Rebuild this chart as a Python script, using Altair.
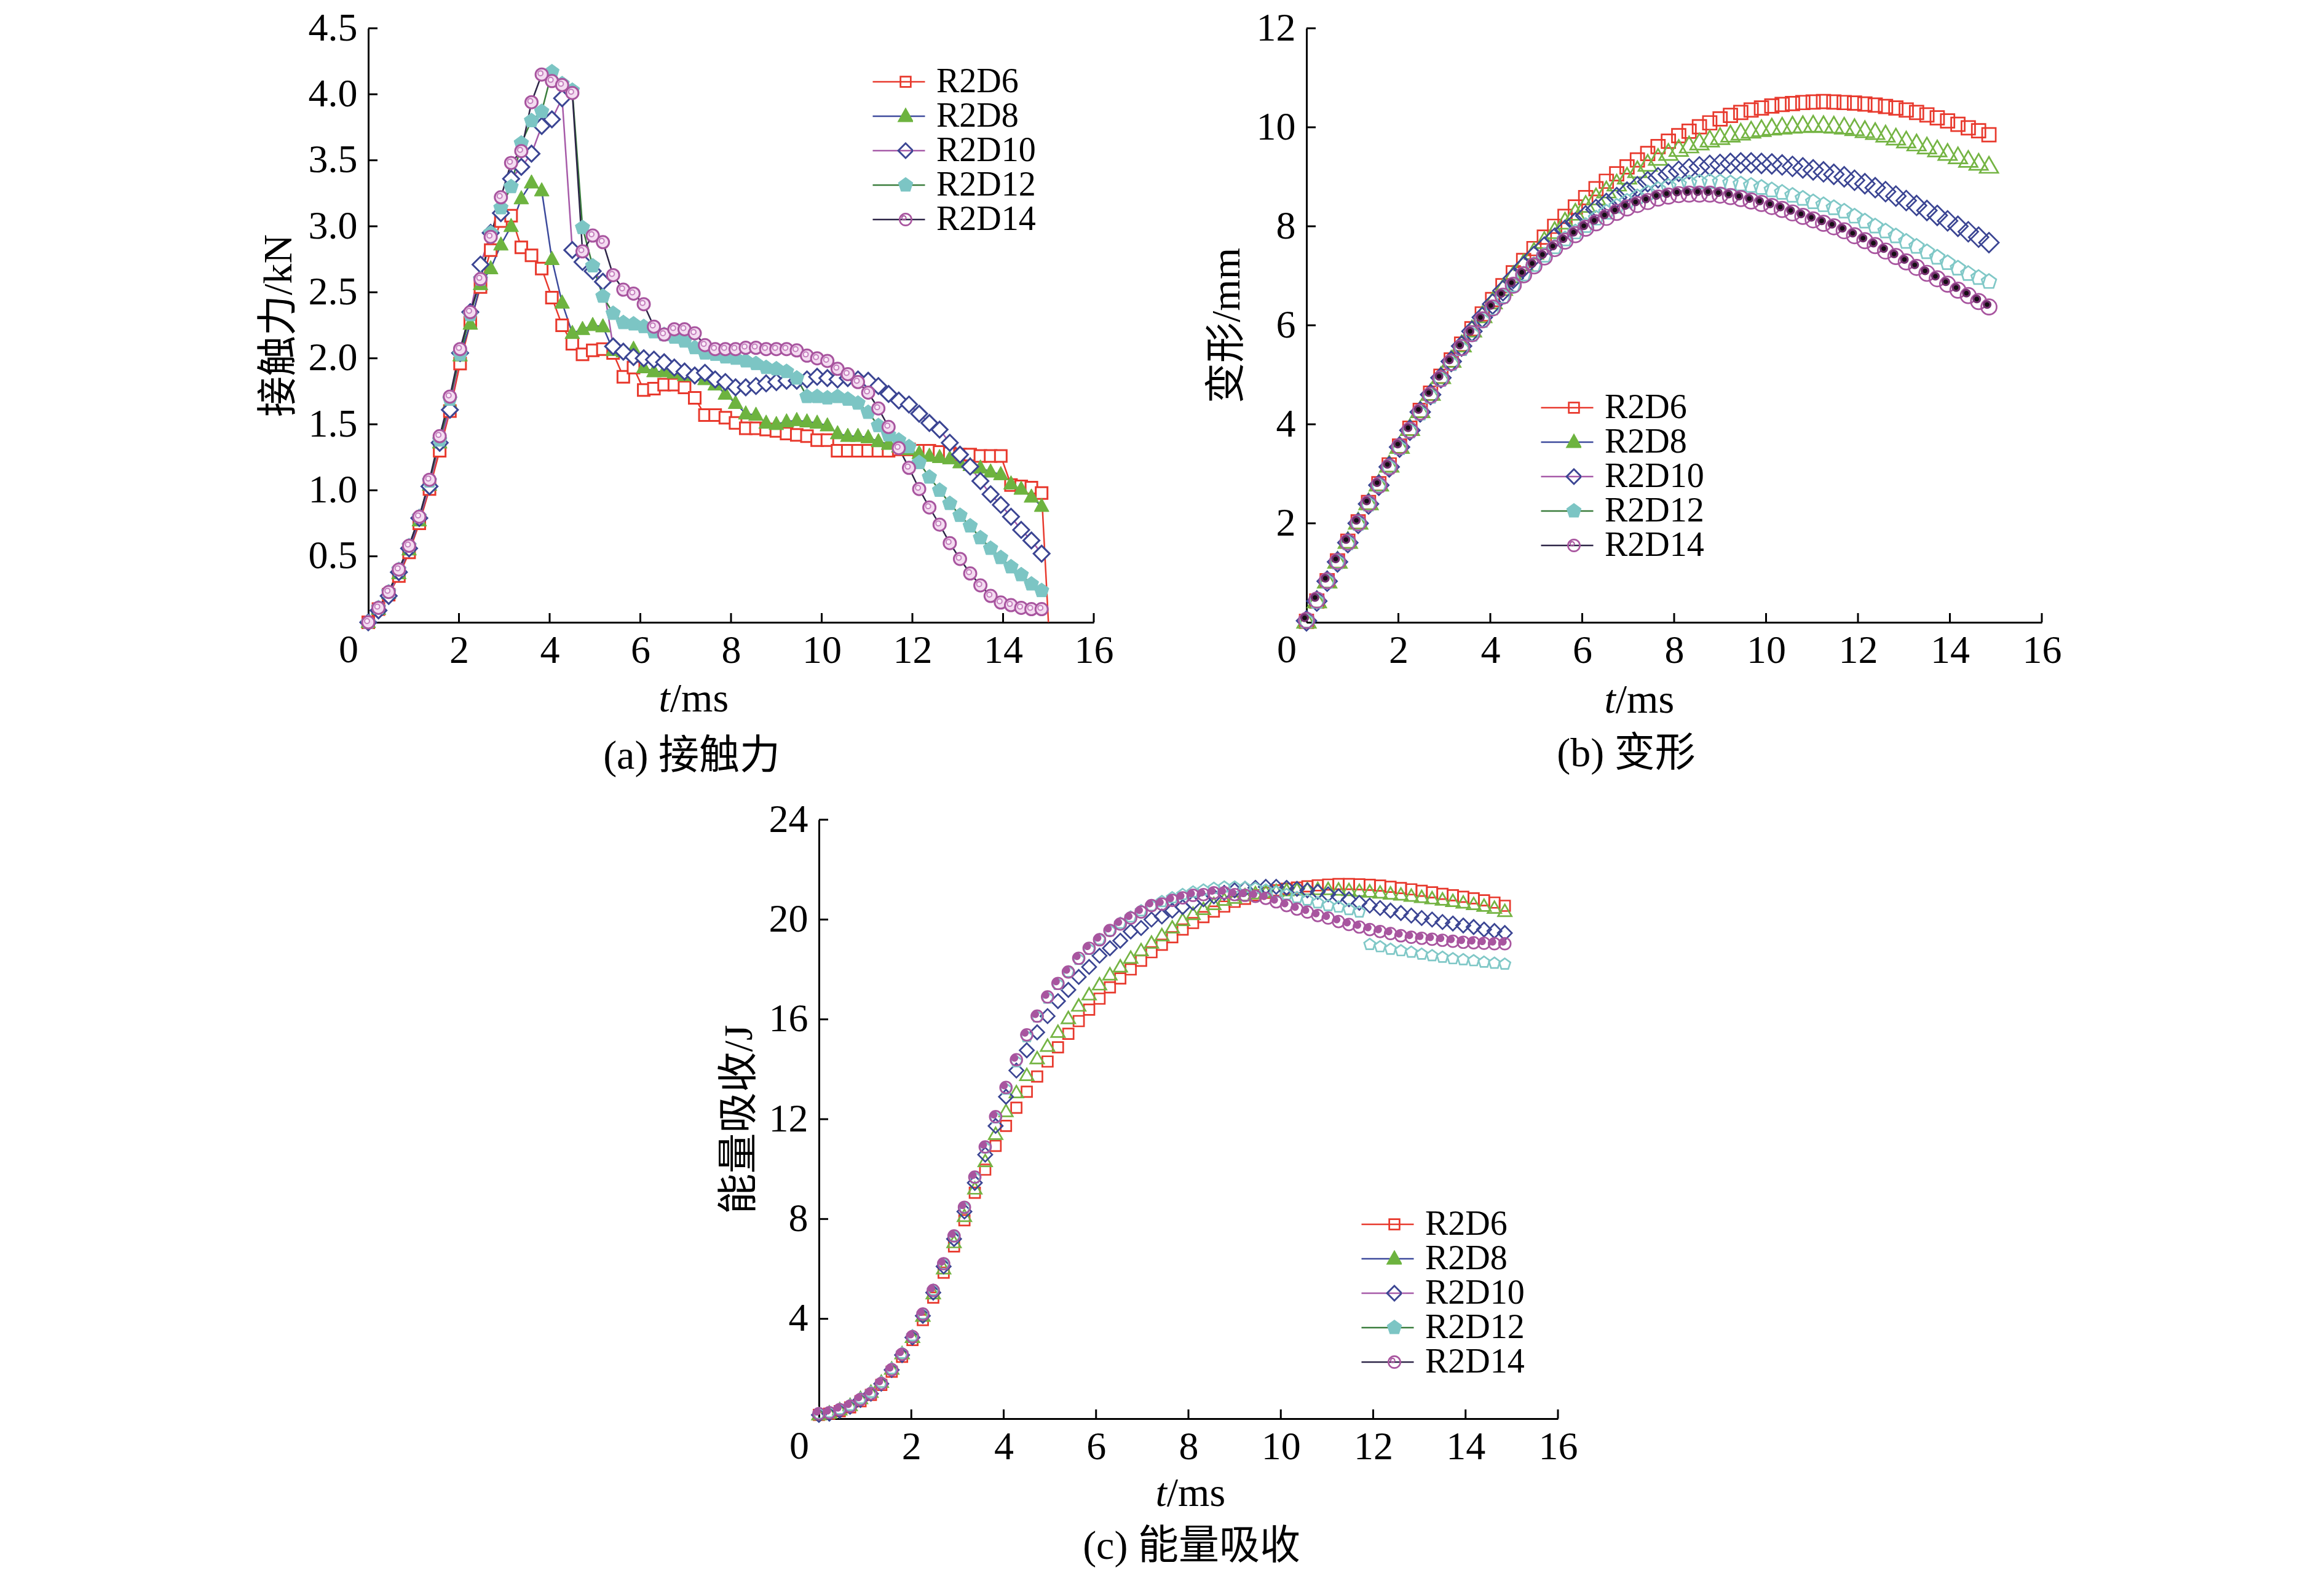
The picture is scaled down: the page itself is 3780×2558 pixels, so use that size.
import math
import altair as alt
import pandas as pd

# ---------------- data ----------------
SERIES = ["R2D6", "R2D8", "R2D10", "R2D12", "R2D14"]
LEGEND_KEYS = ["k6", "k8", "k10", "k12", "k14"]

T_MS = [0.0, 0.225, 0.45, 0.675, 0.9, 1.125, 1.35, 1.575, 1.8, 2.025,
        2.25, 2.475, 2.7, 2.925, 3.15, 3.375, 3.6, 3.825, 4.05, 4.275,
        4.5, 4.725, 4.95, 5.175, 5.4, 5.625, 5.85, 6.075, 6.3, 6.525,
        6.75, 6.975, 7.2, 7.425, 7.65, 7.875, 8.1, 8.325, 8.55, 8.775,
        9.0, 9.225, 9.45, 9.675, 9.9, 10.125, 10.35, 10.575, 10.8, 11.025,
        11.25, 11.475, 11.7, 11.925, 12.15, 12.375, 12.6, 12.825, 13.05, 13.275,
        13.5, 13.725, 13.95, 14.175, 14.4, 14.625, 14.85]

X_LABEL_TICKS = [2, 4, 6, 8, 10, 12, 14, 16]
X_ZERO_LABEL = "0"

# (a) contact force, kN
FORCE_R2D6 = [0.00, 0.10, 0.21, 0.35, 0.53, 0.75, 1.01, 1.30, 1.60, 1.96,
              2.27, 2.54, 2.82, 3.04, 3.08, 2.84, 2.78, 2.68, 2.46, 2.25,
              2.11, 2.03, 2.06, 2.07, 2.04, 1.86, 1.93, 1.76, 1.77, 1.80,
              1.80, 1.78, 1.70, 1.57, 1.57, 1.55, 1.51, 1.47, 1.47, 1.46,
              1.45, 1.43, 1.42, 1.41, 1.38, 1.38, 1.30, 1.30, 1.30, 1.30,
              1.30, 1.30, 1.31, 1.31, 1.30, 1.30, 1.29, 1.28, 1.27, 1.27,
              1.26, 1.26, 1.26, 1.04, 1.03, 1.02, 0.98]
FORCE_R2D8 = [0.00, 0.10, 0.22, 0.37, 0.55, 0.77, 1.04, 1.36, 1.66, 2.02,
              2.26, 2.56, 2.68, 2.86, 3.00, 3.21, 3.33, 3.27, 2.75, 2.42,
              2.19, 2.22, 2.25, 2.24, 2.06, 2.05, 2.07, 1.93, 1.90, 1.90,
              1.89, 1.87, 1.87, 1.84, 1.80, 1.73, 1.66, 1.58, 1.57, 1.51,
              1.50, 1.52, 1.53, 1.52, 1.51, 1.49, 1.43, 1.41, 1.41, 1.40,
              1.37, 1.35, 1.33, 1.31, 1.28, 1.26, 1.25, 1.24, 1.21, 1.19,
              1.17, 1.14, 1.12, 1.05, 1.01, 0.95, 0.88]
FORCE_R2D10 = [0.00, 0.09, 0.20, 0.38, 0.56, 0.79, 1.03, 1.36, 1.61, 2.04,
               2.35, 2.71, 2.95, 3.10, 3.36, 3.45, 3.55, 3.76, 3.81, 3.97,
               2.82, 2.73, 2.66, 2.58, 2.09, 2.05, 2.01, 2.00, 1.99, 1.97,
               1.93, 1.90, 1.87, 1.89, 1.84, 1.82, 1.78, 1.78, 1.79, 1.81,
               1.82, 1.83, 1.83, 1.84, 1.86, 1.85, 1.84, 1.85, 1.84, 1.83,
               1.79, 1.73, 1.68, 1.65, 1.58, 1.51, 1.46, 1.36, 1.27, 1.18,
               1.07, 0.97, 0.89, 0.80, 0.70, 0.62, 0.52]
FORCE_R2D12 = [0.00, 0.11, 0.23, 0.40, 0.58, 0.80, 1.07, 1.38, 1.69, 2.03,
               2.33, 2.60, 2.95, 3.14, 3.30, 3.63, 3.80, 3.87, 4.17, 4.08,
               4.03, 2.99, 2.70, 2.47, 2.34, 2.27, 2.26, 2.24, 2.20, 2.18,
               2.16, 2.13, 2.08, 2.04, 2.03, 2.01, 2.00, 1.98, 1.96, 1.93,
               1.92, 1.90, 1.85, 1.71, 1.71, 1.70, 1.71, 1.69, 1.66, 1.59,
               1.49, 1.42, 1.38, 1.33, 1.21, 1.10, 1.00, 0.90, 0.81, 0.73,
               0.64, 0.56, 0.49, 0.42, 0.36, 0.29, 0.24]
FORCE_R2D14 = [0.00, 0.11, 0.23, 0.40, 0.58, 0.80, 1.08, 1.41, 1.71, 2.07,
               2.35, 2.60, 2.92, 3.22, 3.48, 3.57, 3.94, 4.15, 4.10, 4.07,
               4.01, 2.81, 2.93, 2.88, 2.63, 2.52, 2.49, 2.41, 2.24, 2.18,
               2.22, 2.22, 2.19, 2.10, 2.07, 2.07, 2.07, 2.08, 2.08, 2.07,
               2.07, 2.07, 2.06, 2.02, 2.00, 1.98, 1.92, 1.88, 1.82, 1.74,
               1.62, 1.48, 1.32, 1.17, 1.01, 0.87, 0.74, 0.60, 0.48, 0.37,
               0.28, 0.20, 0.15, 0.13, 0.11, 0.10, 0.10]
# end of the R2D6 force line (drops to zero after the last marker)
FORCE_TAIL_T = [15.0]
FORCE_TAIL_R2D6 = [0.0]

# (b) deformation, mm
DEFORM_R2D6 = [0.02, 0.43, 0.84, 1.24, 1.64, 2.03, 2.42, 2.80, 3.18, 3.56,
               3.92, 4.28, 4.63, 4.97, 5.30, 5.62, 5.93, 6.23, 6.52, 6.80,
               7.06, 7.31, 7.55, 7.78, 8.00, 8.20, 8.39, 8.58, 8.76, 8.91,
               9.06, 9.20, 9.34, 9.47, 9.61, 9.72, 9.83, 9.92, 10.01, 10.09,
               10.17, 10.24, 10.30, 10.35, 10.39, 10.43, 10.46, 10.48, 10.50, 10.51,
               10.52, 10.51, 10.50, 10.49, 10.47, 10.45, 10.42, 10.39, 10.35, 10.30,
               10.25, 10.19, 10.13, 10.06, 9.99, 9.93, 9.85]
DEFORM_R2D8 = [0.02, 0.43, 0.83, 1.23, 1.63, 2.02, 2.41, 2.79, 3.17, 3.55,
               3.91, 4.27, 4.62, 4.96, 5.29, 5.60, 5.90, 6.19, 6.47, 6.74,
               7.00, 7.24, 7.47, 7.69, 7.89, 8.08, 8.26, 8.42, 8.57, 8.71,
               8.85, 8.99, 9.12, 9.25, 9.37, 9.47, 9.55, 9.62, 9.68, 9.74,
               9.79, 9.84, 9.88, 9.92, 9.95, 9.98, 10.00, 10.02, 10.03, 10.04,
               10.03, 10.02, 10.00, 9.97, 9.93, 9.89, 9.84, 9.78, 9.72, 9.66,
               9.60, 9.54, 9.47, 9.40, 9.33, 9.27, 9.21]
DEFORM_R2D10 = [0.03, 0.43, 0.83, 1.22, 1.61, 2.00, 2.39, 2.77, 3.14, 3.54,
                3.88, 4.25, 4.60, 4.94, 5.27, 5.58, 5.88, 6.16, 6.43, 6.70,
                6.95, 7.18, 7.39, 7.58, 7.76, 7.92, 8.07, 8.21, 8.34, 8.46,
                8.58, 8.69, 8.80, 8.90, 8.98, 9.05, 9.11, 9.16, 9.20, 9.23,
                9.25, 9.27, 9.28, 9.28, 9.27, 9.26, 9.24, 9.21, 9.18, 9.14,
                9.10, 9.05, 9.00, 8.93, 8.86, 8.78, 8.70, 8.61, 8.52, 8.42,
                8.32, 8.22, 8.11, 8.00, 7.89, 7.78, 7.67]
DEFORM_R2D12 = [0.02, 0.42, 0.82, 1.21, 1.60, 1.99, 2.38, 2.76, 3.13, 3.52,
                3.86, 4.22, 4.56, 4.90, 5.22, 5.52, 5.81, 6.09, 6.34, 6.58,
                6.81, 7.03, 7.22, 7.41, 7.58, 7.74, 7.88, 8.01, 8.16, 8.28,
                8.40, 8.50, 8.59, 8.67, 8.74, 8.80, 8.84, 8.87, 8.89, 8.90,
                8.89, 8.87, 8.85, 8.82, 8.78, 8.73, 8.68, 8.62, 8.56, 8.49,
                8.43, 8.37, 8.30, 8.20, 8.10, 8.00, 7.90, 7.80, 7.69, 7.59,
                7.48, 7.37, 7.26, 7.15, 7.04, 6.96, 6.88]
DEFORM_R2D14 = [0.04, 0.45, 0.84, 1.23, 1.62, 2.01, 2.40, 2.77, 3.14, 3.55,
                3.88, 4.25, 4.59, 4.92, 5.25, 5.55, 5.83, 6.11, 6.35, 6.59,
                6.81, 7.02, 7.20, 7.38, 7.55, 7.70, 7.83, 7.96, 8.07, 8.18,
                8.28, 8.37, 8.44, 8.50, 8.57, 8.61, 8.64, 8.65, 8.65, 8.65,
                8.63, 8.60, 8.56, 8.51, 8.46, 8.40, 8.34, 8.27, 8.20, 8.13,
                8.06, 7.99, 7.91, 7.81, 7.71, 7.61, 7.50, 7.39, 7.28, 7.17,
                7.05, 6.94, 6.83, 6.71, 6.60, 6.48, 6.37]

# (c) energy absorption, J
ENERGY_R2D6 = [0.15, 0.20, 0.30, 0.45, 0.70, 0.95, 1.35, 1.88, 2.48, 3.15,
               3.95, 4.85, 5.85, 6.90, 7.95, 9.05, 9.98, 10.93, 11.73, 12.46,
               13.10, 13.71, 14.31, 14.88, 15.42, 15.93, 16.39, 16.83, 17.28, 17.64,
               18.00, 18.35, 18.69, 18.99, 19.29, 19.60, 19.86, 20.10, 20.32, 20.52,
               20.71, 20.83, 20.97, 21.07, 21.17, 21.23, 21.28, 21.33, 21.37, 21.40,
               21.42, 21.42, 21.41, 21.39, 21.36, 21.31, 21.26, 21.21, 21.15, 21.09,
               21.03, 20.97, 20.91, 20.85, 20.77, 20.68, 20.55]
ENERGY_R2D8 = [0.15, 0.22, 0.35, 0.52, 0.80, 1.05, 1.45, 1.98, 2.60, 3.25,
               4.10, 5.00, 6.00, 7.05, 8.10, 9.20, 10.30, 11.39, 12.30, 13.06,
               13.75, 14.42, 14.92, 15.48, 16.03, 16.53, 16.98, 17.38, 17.78, 18.10,
               18.45, 18.75, 19.05, 19.35, 19.66, 19.96, 20.20, 20.40, 20.60, 20.77,
               20.85, 20.95, 21.03, 21.08, 21.12, 21.15, 21.18, 21.20, 21.20, 21.20,
               21.18, 21.16, 21.13, 21.10, 21.06, 21.02, 20.98, 20.93, 20.88, 20.83,
               20.78, 20.72, 20.66, 20.60, 20.53, 20.45, 20.32]
ENERGY_R2D10 = [0.15, 0.20, 0.32, 0.48, 0.75, 1.00, 1.40, 1.95, 2.55, 3.25,
                4.12, 5.05, 6.10, 7.20, 8.30, 9.45, 10.58, 11.73, 12.90, 13.95,
                14.76, 15.48, 16.13, 16.73, 17.18, 17.70, 18.10, 18.55, 18.85, 19.15,
                19.52, 19.66, 20.00, 20.12, 20.36, 20.50, 20.67, 20.81, 20.93, 21.07,
                21.17, 21.23, 21.27, 21.31, 21.31, 21.27, 21.23, 21.17, 21.11, 21.01,
                20.93, 20.81, 20.67, 20.56, 20.46, 20.36, 20.26, 20.16, 20.06, 20.00,
                19.90, 19.84, 19.76, 19.70, 19.60, 19.54, 19.46]
ENERGY_R2D12 = [0.20, 0.25, 0.38, 0.53, 0.80, 1.05, 1.45, 2.00, 2.62, 3.32,
                4.20, 5.15, 6.20, 7.30, 8.45, 9.65, 10.85, 12.05, 13.20, 14.30,
                15.30, 16.10, 16.85, 17.40, 17.90, 18.40, 18.80, 19.20, 19.55, 19.85,
                20.10, 20.35, 20.55, 20.72, 20.87, 21.00, 21.10, 21.18, 21.25, 21.30,
                21.30, 21.28, 21.25, 21.18, 21.10, 21.00, 20.88, 20.78, 20.67, 20.56,
                20.50, 20.40, 20.30, 19.00, 18.91, 18.81, 18.75, 18.69, 18.61, 18.55,
                18.49, 18.43, 18.39, 18.35, 18.29, 18.25, 18.21]
ENERGY_R2D14 = [0.20, 0.24, 0.36, 0.50, 0.77, 1.00, 1.41, 1.96, 2.58, 3.29,
                4.19, 5.14, 6.21, 7.32, 8.47, 9.68, 10.89, 12.10, 13.27, 14.38,
                15.38, 16.13, 16.90, 17.44, 17.90, 18.45, 18.85, 19.19, 19.56, 19.82,
                20.06, 20.30, 20.56, 20.62, 20.77, 20.87, 20.97, 21.00, 21.07, 21.07,
                21.00, 20.97, 20.93, 20.85, 20.71, 20.56, 20.42, 20.30, 20.16, 20.06,
                19.92, 19.80, 19.70, 19.60, 19.52, 19.44, 19.35, 19.29, 19.25, 19.21,
                19.17, 19.13, 19.09, 19.07, 19.05, 19.03, 19.03]

FORCE_Y_TICKS = [0.5, 1.0, 1.5, 2.0, 2.5, 3.0, 3.5, 4.0, 4.5]
DEFORM_Y_TICKS = [2, 4, 6, 8, 10, 12]
ENERGY_Y_TICKS = [4, 8, 12, 16, 20, 24]

Y_TITLES = ["接触力/kN", "变形/mm", "能量吸收/J"]
CAPTIONS = ["(a) 接触力", "(b) 变形", "(c) 能量吸收"]
X_TITLE_ITALIC = "t"
X_TITLE_REST = "/ms"

# ---------------- style ----------------
SERIF = "Liberation Serif"
MIXED = "Liberation Serif, Noto Sans CJK SC"
RED = "#e8392d"
GREEN = "#6db33f"
NAVY = "#3b4593"
CYAN = "#7cc5c4"
PURPLE = "#a8559f"
PINK = "#f4dcf1"
LINE_COLORS = ["#e8392d", "#3c4a9c", "#a65aa8", "#3a7d3c", "#2d2547"]
MARKER_COLORS = [RED, GREEN, NAVY, CYAN, PURPLE]
TICK_FONT = 64
TEXT_FONT = 66
LEGEND_FONT = 56
X_LABEL_PAD = 14


def _n(v):
    s = f"{v:.3f}".rstrip("0").rstrip(".")
    return "0" if s in ("-0", "", "-") else s


def poly(pts, u=1.0):
    return "M" + "L".join(f"{_n(x / u)},{_n(y / u)}" for x, y in pts) + "Z"


def square(h, u=1.0):
    return poly([(-h, -h), (h, -h), (h, h), (-h, h)], u)


def triangle(w, h, u=1.0):
    return poly([(0, -0.6 * h), (w / 2, 0.4 * h), (-w / 2, 0.4 * h)], u)


def diamond(r, u=1.0):
    return poly([(0, -r), (r, 0), (0, r), (-r, 0)], u)


def pentagon(r, u=1.0):
    pts = [(r * math.cos(math.radians(-90 + 72 * i)), r * math.sin(math.radians(-90 + 72 * i)))
           for i in range(5)]
    return poly(pts, u)


def circle(r, cx=0.0, cy=0.0, u=1.0, sweep=1):
    rr, x0, x1, y = r / u, (cx - r) / u, (cx + r) / u, cy / u
    return (f"M{_n(x0)},{_n(y)}A{_n(rr)},{_n(rr)} 0 1 {sweep} {_n(x1)},{_n(y)}"
            f"A{_n(rr)},{_n(rr)} 0 1 {sweep} {_n(x0)},{_n(y)}Z")


def sq_ring(ho, hi, u):
    return square(ho, u) + poly([(-hi, -hi), (-hi, hi), (hi, hi), (hi, -hi)], u)


def dia_ring(ro, ri, u):
    return diamond(ro, u) + poly([(0, -ri), (-ri, 0), (0, ri), (ri, 0)], u)


def circ_ring(ro, ri, cx, cy, u):
    return circle(ro, cx, cy, u, 1) + circle(ri, cx, cy, u, 0)


LEG_SYM = 34
LEG_U = LEG_SYM / 2.0
LEG_PATHS = [sq_ring(9.7, 7.0, LEG_U), triangle(27, 24, LEG_U), dia_ring(14, 9.9, LEG_U),
             pentagon(13, LEG_U), circ_ring(11, 8.3, 0, 0, LEG_U) + circ_ring(4.3, 2.4, -2.7, -2.7, LEG_U)]
LINE_LEN = 85
LINE_W = 2.5


def build_panel(values, width, height, ymax, yticks, yfmt, ytitle, caption,
                xt_cx, xt_dy, cap_cx, cap_dy, leg_x, leg_y, markers, draw_lines,
                tails=None, extend_right=0):
    xs = alt.Scale(domain=[0, 16], nice=False, zero=False)
    ys = alt.Scale(domain=[0, ymax], nice=False, zero=False)
    xax = alt.Axis(values=X_LABEL_TICKS, title=None, ticks=False, tickSize=0, grid=False,
                   labelFont=SERIF, labelFontSize=TICK_FONT, labelColor="black", labelPadding=X_LABEL_PAD,
                   labelFlush=False, labelOverlap=False,
                   domainColor="black", domainWidth=3)
    yax = alt.Axis(values=yticks, format=yfmt, title=ytitle, ticks=False, tickSize=0, grid=False,
                   labelFont=SERIF, labelFontSize=TICK_FONT, labelColor="black", labelPadding=18,
                   labelFlush=False, labelOverlap=False,
                   titleFont=MIXED, titleFontSize=TEXT_FONT, titleFontWeight="normal",
                   titleColor="black", titlePadding=14, domainColor="black", domainWidth=3)

    def X(f="t"):
        return alt.X(f"{f}:Q", scale=xs, axis=xax)

    def Y(f="v"):
        return alt.Y(f"{f}:Q", scale=ys, axis=yax)

    layers = []
    # inward ticks
    layers.append(alt.Chart(pd.DataFrame({"t": X_LABEL_TICKS})).mark_rule(color="black", strokeWidth=3)
                  .encode(x=X(), y=alt.value(height), y2=alt.value(height - 15)))
    layers.append(alt.Chart(pd.DataFrame({"v": yticks})).mark_rule(color="black", strokeWidth=3)
                  .encode(y=Y(), x=alt.value(0), x2=alt.value(15)))

    frames = [pd.DataFrame({"t": T_MS, "v": vals}) for vals in values]
    if draw_lines:
        for i, df in enumerate(frames):
            dfl = df
            if tails and i in tails:
                dfl = pd.concat([df, pd.DataFrame({"t": tails[i][0], "v": tails[i][1]})], ignore_index=True)
            layers.append(alt.Chart(dfl).mark_line(color=LINE_COLORS[i], strokeWidth=LINE_W)
                          .encode(x=X(), y=Y()))
    for (i, path, fill, stroke, sw) in markers:
        kw = dict(shape=path, size=4, opacity=1, filled=False, strokeWidth=sw)
        if fill:
            kw["fill"] = fill
        if stroke:
            kw["stroke"] = stroke
        layers.append(alt.Chart(frames[i]).mark_point(**kw).encode(x=X(), y=Y()))

    # "0" at the origin, set a little to the left as in the original
    zero = pd.DataFrame({"s": [X_ZERO_LABEL]})
    layers.append(alt.Chart(zero).mark_text(font=SERIF, fontSize=TICK_FONT, align="center",
                                            baseline="top", color="black")
                  .encode(x=alt.value(-32), y=alt.value(height + X_LABEL_PAD), text="s:N"))

    # axis title and caption
    split = xt_cx - 0.58 * TEXT_FONT
    txt = pd.DataFrame({"s": [X_TITLE_ITALIC]})
    layers.append(alt.Chart(txt).mark_text(font=SERIF, fontSize=TEXT_FONT, fontStyle="italic",
                                           align="right", baseline="middle", color="black")
                  .encode(x=alt.value(split + 1), y=alt.value(height + xt_dy), text="s:N"))
    txt2 = pd.DataFrame({"s": [X_TITLE_REST]})
    layers.append(alt.Chart(txt2).mark_text(font=SERIF, fontSize=TEXT_FONT,
                                            align="left", baseline="middle", color="black")
                  .encode(x=alt.value(split + 1), y=alt.value(height + xt_dy), text="s:N"))
    cap = pd.DataFrame({"s": [caption]})
    layers.append(alt.Chart(cap).mark_text(font=MIXED, fontSize=TEXT_FONT,
                                           align="center", baseline="middle", color="black")
                  .encode(x=alt.value(cap_cx), y=alt.value(height + cap_dy), text="s:N"))

    if extend_right:
        # invisible spacer that widens the panel bounds (used for centring in the layout)
        layers.append(alt.Chart(zero).mark_rule(opacity=0, strokeWidth=1)
                      .encode(x=alt.value(width + extend_right - 1), x2=alt.value(width + extend_right),
                              y=alt.value(height)))

    # legend: lines (with labels) + markers (overlaid, labels hidden under the marker)
    leg_df = pd.DataFrame({"name": SERIES, "key": LEGEND_KEYS})
    common = dict(orient="none", title=None, clipHeight=56, rowPadding=0, padding=0,
                  labelFont=SERIF, labelFontSize=LEGEND_FONT, labelColor="black",
                  symbolOpacity=1, labelLimit=500)
    leg_a = alt.Legend(legendX=leg_x - 1, legendY=leg_y, symbolType="stroke",
                       symbolSize=LINE_LEN * LINE_LEN, symbolStrokeWidth=LINE_W,
                       labelOffset=17, **common)
    half_a = math.ceil(LINE_LEN + LINE_W) / 2.0
    leg_b = alt.Legend(legendX=leg_x - 1 + half_a - LEG_SYM / 2.0, legendY=leg_y,
                       symbolSize=LEG_SYM * LEG_SYM, symbolStrokeWidth=0,
                       labelOpacity=0, labelExpr="'.'", labelOffset={"expr": "-30"}, **common)
    layers.append(alt.Chart(leg_df).transform_filter("false").mark_line(strokeWidth=LINE_W, opacity=1)
                  .encode(stroke=alt.Stroke("name:N", scale=alt.Scale(domain=SERIES, range=LINE_COLORS),
                                            legend=leg_a)))
    layers.append(alt.Chart(leg_df).transform_filter("false")
                  .mark_point(filled=True, size=LEG_SYM * LEG_SYM, opacity=1, strokeWidth=0)
                  .encode(color=alt.Color("key:N", scale=alt.Scale(domain=LEGEND_KEYS, range=MARKER_COLORS),
                                          legend=leg_b),
                          shape=alt.Shape("key:N", scale=alt.Scale(domain=LEGEND_KEYS, range=LEG_PATHS),
                                          legend=leg_b)))
    return alt.layer(*layers).properties(width=width, height=height)


# ---------------- panels ----------------
A_W, A_H = 1180, 966
B_W, B_H = 1196, 966
C_W, C_H = 1202, 974

markers_a = [
    (0, square(9.5), "white", RED, 3),
    (1, triangle(24, 22), GREEN, GREEN, 1),
    (2, diamond(13), "white", NAVY, 3),
    (3, pentagon(12.5), CYAN, CYAN, 1),
    (4, circle(10), PINK, PURPLE, 3),
    (4, circle(4, -2, -2), "#fbeefa", "#c47fbd", 2),
]
markers_b = [
    (0, square(11), None, RED, 2.7),
    (1, triangle(30, 26), None, "#74b443", 2.7),
    (2, diamond(16), None, NAVY, 2.7),
    (3, pentagon(12.5), None, "#80c8c7", 2.7),
    (4, circle(12.5), None, PURPLE, 2.7),
    (4, circle(7, -3, -4), "#74306f", None, 0),
    (4, circle(3.8, -3, -4), "#141014", None, 0),
]
markers_c = [
    (0, square(8.5), None, RED, 2.7),
    (1, triangle(22, 19), None, "#74b443", 2.7),
    (2, diamond(11.5), None, NAVY, 2.7),
    (3, pentagon(9.5), None, "#80c8c7", 2.7),
    (4, circle(9.5), None, PURPLE, 2.7),
    (4, circle(6, -3, -3), PURPLE, None, 0),
]

panel_a = build_panel([FORCE_R2D6, FORCE_R2D8, FORCE_R2D10, FORCE_R2D12, FORCE_R2D14],
                      A_W, A_H, 4.5, FORCE_Y_TICKS, ".1f", Y_TITLES[0], CAPTIONS[0],
                      A_W / 2 - 62, 125, A_W / 2 - 64, 218, 820, 59, markers_a, True,
                      tails={0: (FORCE_TAIL_T, FORCE_TAIL_R2D6)})
panel_b = build_panel([DEFORM_R2D6, DEFORM_R2D8, DEFORM_R2D10, DEFORM_R2D12, DEFORM_R2D14],
                      B_W, B_H, 12, DEFORM_Y_TICKS, "d", Y_TITLES[1], CAPTIONS[1],
                      B_W / 2 - 58, 127, B_W / 2 - 78, 214, 381, 589, markers_b, False)
panel_c = build_panel([ENERGY_R2D6, ENERGY_R2D8, ENERGY_R2D10, ENERGY_R2D12, ENERGY_R2D14],
                      C_W, C_H, 24, ENERGY_Y_TICKS, "d", Y_TITLES[2], CAPTIONS[2],
                      C_W / 2 + 2, 122, C_W / 2 + 5, 208, 882, 630, markers_c, False,
                      extend_right=86)

indep = dict(color="independent", shape="independent", stroke="independent")
top = alt.hconcat(panel_a, panel_b, spacing=151).resolve_scale(**indep)
chart = (alt.vconcat(top, panel_c, spacing=38, center=True)
         .resolve_scale(**indep)
         .properties(padding={"left": 412, "top": 6, "right": 10, "bottom": 10}, background="white")
         .configure_view(stroke=None))

chart.save("out.html", embed_options={"renderer": "svg", "actions": False})
